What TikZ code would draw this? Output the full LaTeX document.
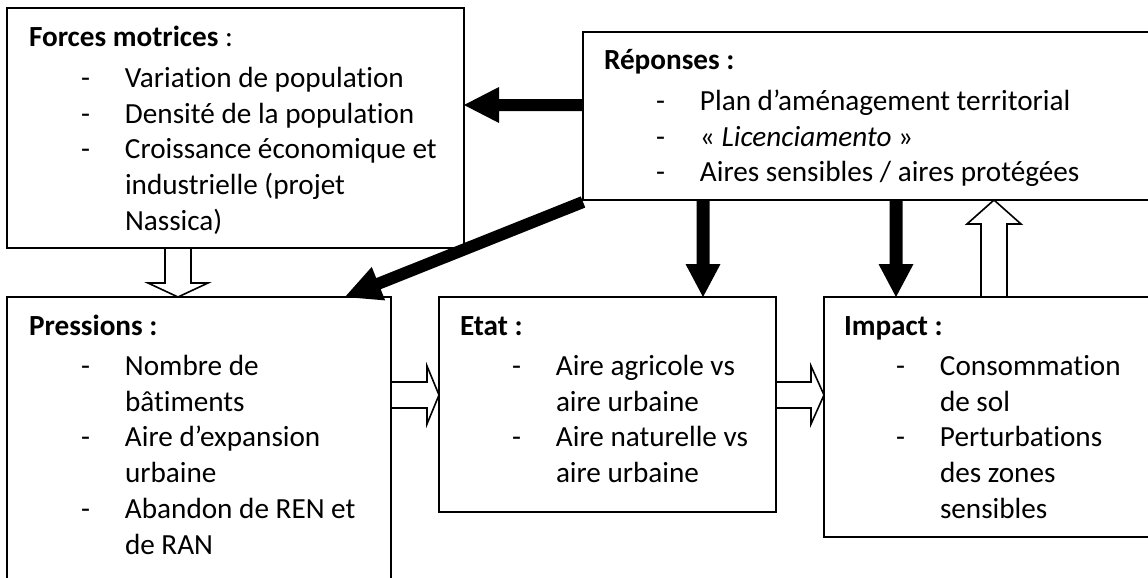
\documentclass[tikz,border=0pt]{standalone}
\usepackage{fontspec}
\setmainfont{Carlito}[Ligatures={NoCommon,NoContextual,NoRare},Contextuals=NoAlternate]
\usetikzlibrary{calc}
\newcommand{\boxtext}[1]{\parbox[t]{560pt}{\fontsize{29.2}{35.8}\selectfont #1}}
\newcommand{\itm}[1]{\hspace*{52pt}\makebox[44pt][l]{-}#1}
\newcommand{\cnt}[1]{\hspace*{96pt}#1}
\newcommand{\tI}{t\kern0pt i}
% #1 style, #2 start, #3 tip, #4 shaft half width, #5 head half width, #6 head length
\newcommand{\blockarrow}[6]{%
  \coordinate (ba) at (#2);
  \coordinate (tp) at (#3);
  \coordinate (hb) at ($(tp)!#6!(ba)$);
  \path[#1] ($(ba)!#4!-90:(tp)$) -- ($(hb)!#4!-90:(tp)$) -- ($(hb)!#5!-90:(tp)$)
     -- (tp) -- ($(hb)!#5!90:(tp)$) -- ($(hb)!#4!90:(tp)$) -- ($(ba)!#4!90:(tp)$) -- cycle;}
\tikzset{
  box/.style={draw=black, line width=1.6pt, rectangle, anchor=north west, inner sep=0pt, outer sep=0pt},
  txt/.style={anchor=base west, inner sep=0pt, outer sep=0pt},
  solidarrow/.style={fill=black},
  hollowarrow/.style={draw=black, fill=white, line width=1.6pt, line join=miter},
}
\begin{document}
\begin{tikzpicture}[x=1pt,y=-1pt]
\useasboundingbox (0,0) rectangle (1148,578);
\fill[white] (0,0) rectangle (1148,578);
\clip (0,0) rectangle (1148,578);

% boxes
\node[box, minimum width=457pt, minimum height=240pt] (forces) at (7,8) {};
\node[box, minimum width=590pt, minimum height=168pt] (rep) at (583,32) {};
\node[box, minimum width=384pt, minimum height=320pt] (pres) at (7,297) {};
\node[box, minimum width=337pt, minimum height=215pt] (etat) at (439,297) {};
\node[box, minimum width=350pt, minimum height=240pt] (impact) at (824,297) {};

% solid arrows from Réponses
\blockarrow{solidarrow}{$(rep.north west)+(0,73)$}{$(forces.north east)+(0,97)$}{6pt}{18pt}{35pt}
\blockarrow{solidarrow}{$(rep.south west)+(0,2)$}{$(pres.north west)+(338,0)$}{6pt}{18pt}{36pt}
\blockarrow{solidarrow}{$(rep.south west)+(120,0)$}{$(etat.north west)+(264,0)$}{6.5pt}{17.5pt}{33pt}
\blockarrow{solidarrow}{$(rep.south west)+(313,0)$}{$(impact.north west)+(72,0)$}{6.5pt}{17.5pt}{33pt}

% hollow arrows
\blockarrow{hollowarrow}{$(forces.south west)+(171,0)$}{$(pres.north west)+(171,0)$}{13pt}{30pt}{14pt}
\blockarrow{hollowarrow}{$(pres.north east)+(0,98)$}{$(etat.north west)+(0,98)$}{13pt}{29pt}{12pt}
\blockarrow{hollowarrow}{$(etat.north east)+(0,98)$}{$(impact.north west)+(0,98)$}{13pt}{29pt}{13pt}
\blockarrow{hollowarrow}{$(impact.north west)+(170,0)$}{$(rep.south west)+(411,0)$}{13pt}{27pt}{24pt}

% texts
\node[txt] (tforces) at (29,47) {\boxtext{%
  {\bfseries Forces motrices} :\\[4.5pt]
  \itm{Varia\tI on de popula\tI on}\\
  \itm{Densité de la popula\tI on}\\
  \itm{Croissance économique et}\\
  \cnt{industrielle (projet}\\
  \cnt{Nassica)}}};
\node[txt] (trep) at (604,70) {\boxtext{%
  {\bfseries Réponses :}\\[4.5pt]
  \itm{Plan d’aménagement territorial}\\
  \itm{« \textit{Licenciamento} »}\\
  \itm{Aires sensibles / aires protégées}}};
\node[txt] (tpres) at (29,335) {\boxtext{%
  {\bfseries Pressions :}\\[4.5pt]
  \itm{Nombre de}\\
  \cnt{bâ\tI ments}\\
  \itm{Aire d’expansion}\\
  \cnt{urbaine}\\
  \itm{Abandon de REN et}\\
  \cnt{de RAN}}};
\node[txt] (tetat) at (460,335) {\boxtext{%
  {\bfseries Etat :}\\[4.5pt]
  \itm{Aire agricole vs}\\
  \cnt{aire urbaine}\\
  \itm{Aire naturelle vs}\\
  \cnt{aire urbaine}}};
\node[txt] (timpact) at (844,335) {\boxtext{%
  {\bfseries Impact :}\\[4.5pt]
  \itm{Consomma\tI on}\\
  \cnt{de sol}\\
  \itm{Perturba\tI ons}\\
  \cnt{des zones}\\
  \cnt{sensibles}}};
\end{tikzpicture}
\end{document}
